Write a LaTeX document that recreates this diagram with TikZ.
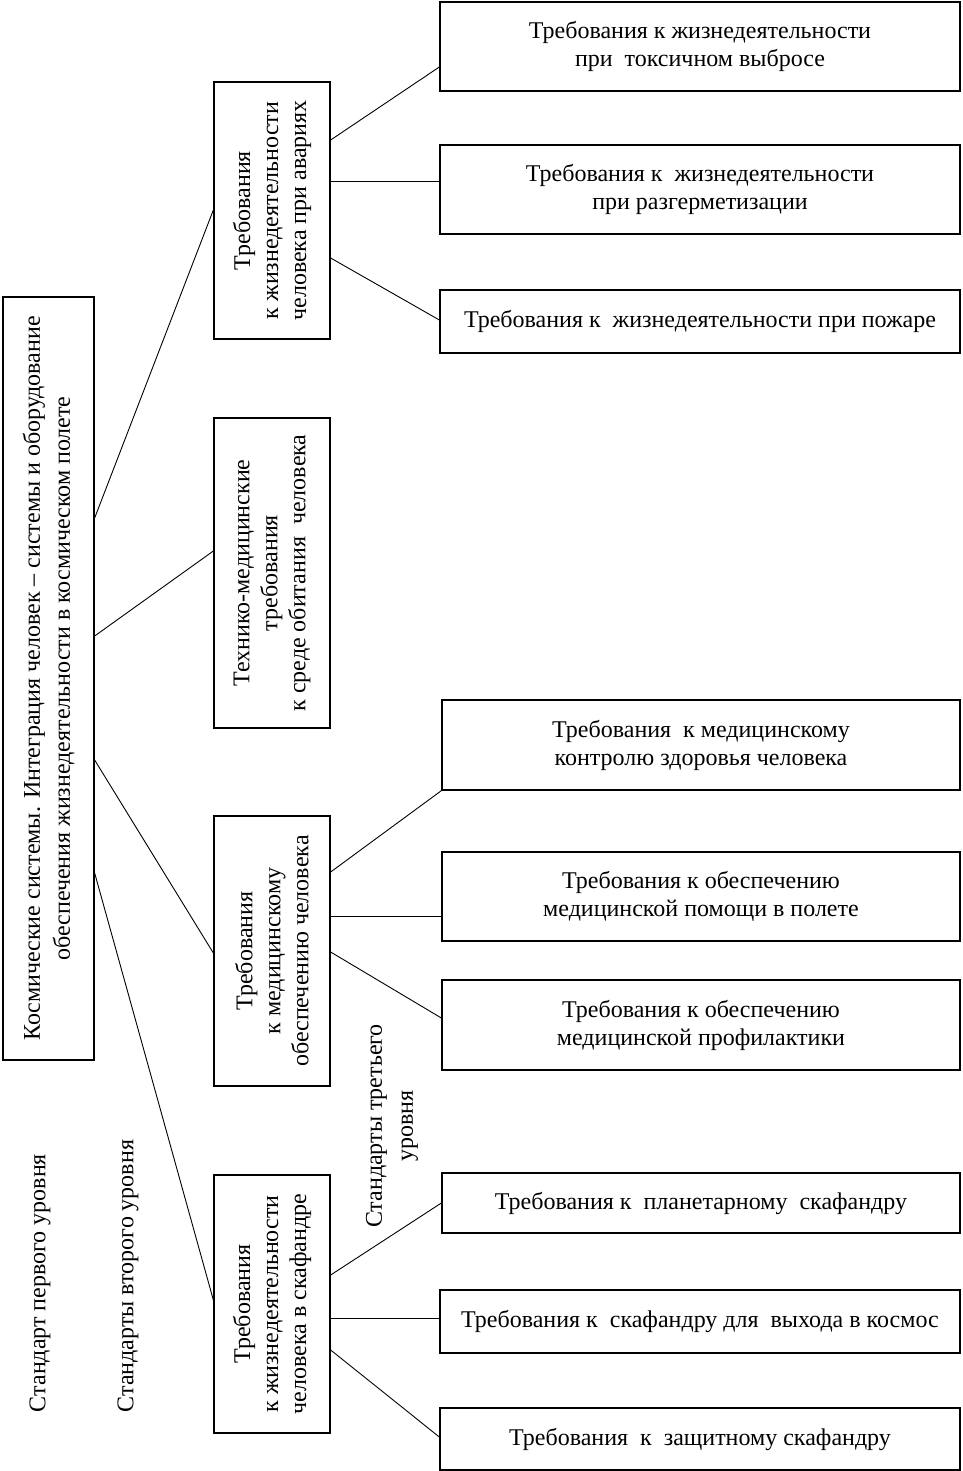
\documentclass[tikz,border=0pt]{standalone}
\usepackage{fontspec}
\setmainfont{Liberation Serif}
\begin{document}
\begin{tikzpicture}[x=1pt,y=-1pt,
  box/.style={draw,line width=1.3pt,inner sep=0pt,minimum width=#1},
  txt/.style={align=center,inner sep=0pt,font=\fontsize{24}{28}\selectfont},
  rtxt/.style={txt,rotate=90},
  conn/.style={line width=0.9pt}]
\useasboundingbox (0,0) rectangle (962,1471);
% root
\node[box=91pt,minimum height=763pt] (root) at (48.5,678.5) {};
\node[rtxt,font=\fontsize{24}{30}\selectfont] (roott) at (root.center) {Космические системы. Интеграция человек – системы и оборудование\\обеспечения жизнедеятельности в космическом полете};
% level 2
\node[box=116pt,minimum height=257pt] (A) at (272,210.5) {};
\node[rtxt] (At) at (A.center) {Требования\\к жизнедеятельности\\человека при авариях};
\node[box=116pt,minimum height=310pt] (B) at (272,573) {};
\node[rtxt] (Bt) at (B.center) {Технико-медицинские\\требования\\к среде обитания~ человека};
\node[box=116pt,minimum height=270pt] (C) at (272,951) {};
\node[rtxt] (Ct) at (C.center) {Требования\\к медицинскому\\обеспечению человека};
\node[box=116pt,minimum height=258pt] (D) at (272,1304) {};
\node[rtxt] (Dt) at (D.center) {Требования\\к жизнедеятельности\\человека в скафандре};
% level 3
\node[box=520pt,minimum height=89pt] (A1) at (700,46.5) {};
\node[txt] (A1t) at (A1.center) {Требования к жизнедеятельности\\при~ токсичном выбросе};
\node[box=520pt,minimum height=89pt] (A2) at (700,189.5) {};
\node[txt] (A2t) at (A2.center) {Требования к~ жизнедеятельности\\при разгерметизации};
\node[box=520pt,minimum height=63pt] (A3) at (700,321.5) {};
\node[txt] (A3t) at (A3.center) {Требования к~ жизнедеятельности при пожаре};
\node[box=518pt,minimum height=90pt] (C1) at (701,745) {};
\node[txt] (C1t) at (C1.center) {Требования~ к медицинскому\\контролю здоровья человека};
\node[box=518pt,minimum height=89pt] (C2) at (701,896.5) {};
\node[txt] (C2t) at (C2.center) {Требования к обеспечению\\медицинской помощи в полете};
\node[box=518pt,minimum height=90pt] (C3) at (701,1025) {};
\node[txt] (C3t) at (C3.center) {Требования к обеспечению\\медицинской профилактики};
\node[box=518pt,minimum height=60pt] (D1) at (701,1203) {};
\node[txt] (D1t) at (D1.center) {Требования к~ планетарному~ скафандру};
\node[box=520pt,minimum height=63pt] (D2) at (700,1321.5) {};
\node[txt] (D2t) at (D2.center) {Требования к~ скафандру для~ выхода в космос};
\node[box=520pt,minimum height=62pt] (D3) at (700,1439) {};
\node[txt] (D3t) at (D3.center) {Требования~ к~ защитному скафандру};
% labels
\node[rtxt] (L1) at (40,1283) {Стандарт первого уровня};
\node[rtxt] (L2) at (128,1276) {Стандарты второго уровня};
\node[rtxt,font=\fontsize{24}{31}\selectfont] (L3) at (392,1126) {Стандарты третьего\\уровня};
% connectors
\draw[conn] (root.east |- 0,518) -- (A.west |- 0,210);
\draw[conn] (root.east |- 0,636) -- (B.west |- 0,551);
\draw[conn] (root.east |- 0,760) -- (C.west |- 0,953);
\draw[conn] (root.east |- 0,873) -- (D.west |- 0,1300);
\draw[conn] (A.east |- 0,140) -- (A1.west |- 0,67);
\draw[conn] (A.east |- 0,181) -- (A2.west |- 0,181);
\draw[conn] (A.east |- 0,258) -- (A3.west |- 0,320);
\draw[conn] (C.east |- 0,872) -- (C1.south west);
\draw[conn] (C.east |- 0,916) -- (C2.west |- 0,916);
\draw[conn] (C.east |- 0,952) -- (C3.west |- 0,1018);
\draw[conn] (D.east |- 0,1275) -- (D1.west |- 0,1203);
\draw[conn] (D.east |- 0,1318) -- (D2.west |- 0,1318);
\draw[conn] (D.east |- 0,1350) -- (D3.west |- 0,1437);
\end{tikzpicture}
\end{document}
